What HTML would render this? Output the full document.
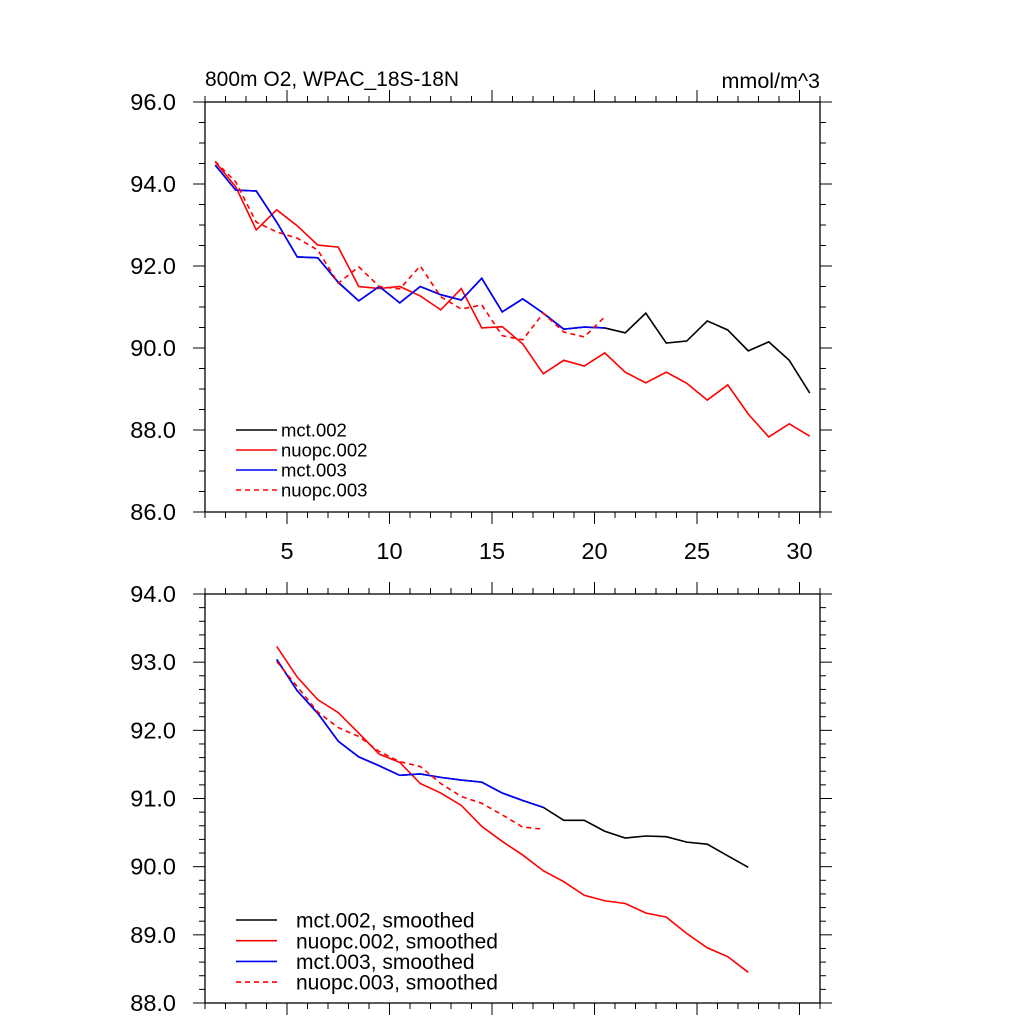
<!DOCTYPE html>
<html><head><meta charset="utf-8"><style>
html,body{margin:0;padding:0;background:#fff}
svg{display:block;font-family:"Liberation Sans",Arial,sans-serif}
</style></head><body>
<svg id="c" width="1024" height="1024" viewBox="0 0 1024 1024"></svg>
<script>
const xs=[1.5,2.5,3.5,4.5,5.5,6.5,7.5,8.5,9.5,10.5,11.5,12.5,13.5,14.5,15.5,16.5,17.5,18.5,19.5,20.5,21.5,22.5,23.5,24.5,25.5,26.5,27.5,28.5,29.5,30.5];
const mct002=[94.46,93.85,93.83,93.07,92.22,92.2,91.6,91.15,91.5,91.1,91.5,91.3,91.17,91.7,90.88,91.2,90.85,90.46,90.51,90.49,90.37,90.85,90.12,90.17,90.66,90.44,89.93,90.15,89.7,88.9];
const nuopc002=[94.54,93.93,92.88,93.37,92.98,92.51,92.46,91.5,91.45,91.5,91.27,90.93,91.45,90.49,90.52,90.1,89.37,89.7,89.56,89.88,89.41,89.15,89.41,89.14,88.73,89.1,88.39,87.83,88.15,87.85];
const mct003=[94.46,93.85,93.83,93.07,92.22,92.2,91.6,91.15,91.5,91.1,91.5,91.3,91.17,91.7,90.88,91.2,90.85,90.46,90.51,90.49];
const nuopc003=[94.55,94.05,93.07,92.83,92.68,92.39,91.58,91.98,91.5,91.44,92.0,91.25,90.95,91.05,90.3,90.2,90.85,90.39,90.27,90.76];
const xsS=[4.5,5.5,6.5,7.5,8.5,9.5,10.5,11.5,12.5,13.5,14.5,15.5,16.5,17.5,18.5,19.5,20.5,21.5,22.5,23.5,24.5,25.5,26.5,27.5];
const mct002S=[93.04,92.58,92.25,91.84,91.61,91.48,91.34,91.36,91.31,91.27,91.24,91.08,90.97,90.87,90.68,90.68,90.52,90.42,90.45,90.44,90.36,90.33,90.16,89.99];
const nuopc002S=[93.23,92.78,92.45,92.26,91.96,91.65,91.53,91.22,91.08,90.9,90.59,90.37,90.17,89.94,89.78,89.58,89.5,89.46,89.32,89.26,89.02,88.81,88.68,88.45];
const mct003S=[93.04,92.58,92.25,91.84,91.61,91.48,91.34,91.36,91.31,91.27,91.24,91.08,90.97,90.87];
const nuopc003S=[93.01,92.64,92.27,92.04,91.91,91.69,91.54,91.47,91.22,91.03,90.93,90.76,90.58,90.55];
const xTicks=[5,10,15,20,25,30];
const yTicksTop=[86,88,90,92,94,96];
const yTicksBot=[88,89,90,91,92,93,94];

const svg=document.getElementById('c');
const NS='http://www.w3.org/2000/svg';
function mk(tag,attrs,parent){const e=document.createElementNS(NS,tag);for(const k in attrs)e.setAttribute(k,attrs[k]);(parent||svg).appendChild(e);return e;}
const L=205,R=820;
const X=v=>L+(v-1)*(R-L)/30;

function panel(name,y0,y1,ymin,ymax,yt,minorStep,showX){
  const g=mk('g',{});
  
  
  const Y=v=>y1-(v-ymin)*(y1-y0)/(ymax-ymin);
  mk('rect',{x:L,y:y0,width:R-L,height:y1-y0,fill:'none',stroke:'#000','stroke-width':1.3},g);
  const tk=mk('g',{stroke:'#000','stroke-width':1},g);
  
  
  for(let v=1;v<=31;v++){
    const maj=v%5===0, len=maj?12:6, x=X(v);
    mk('line',{x1:x,x2:x,y1:y1,y2:y1+len},tk);
    mk('line',{x1:x,x2:x,y1:y0,y2:y0-len},tk);
  }
  const step=yt[1]-yt[0];
  const n=Math.round((ymax-ymin)/minorStep);
  for(let i=0;i<=n;i++){
    const v=ymin+i*minorStep;
    const r=v/step;
    const maj=Math.abs(r-Math.round(r))<1e-6;
    const len=maj?12:6,y=Y(v);
    mk('line',{x1:L,x2:L-len,y1:y,y2:y},tk);
    mk('line',{x1:R,x2:R+len,y1:y,y2:y},tk);
  }
  yt.forEach(v=>{
    const t=mk('text',{x:176,y:Y(v)+8,'text-anchor':'end','font-size':23.5},g);
    t.textContent=v.toFixed(1);
    
    
  });
  if(showX) xTicks.forEach(v=>{
    const t=mk('text',{x:X(v),y:y1+47,'text-anchor':'middle','font-size':23.5},g);
    t.textContent=v;
    
    
  });
  return {g,Y};
}
function series(p,xv,yv,color,dash,nm){
  const d=yv.map((v,i)=>(i?'L':'M')+X(xv[i]).toFixed(2)+' '+p.Y(v).toFixed(2)).join(' ');
  const a={d:d,fill:'none',stroke:color,'stroke-width':1.6};
  if(dash)a['stroke-dasharray']='5 4';
  const e=mk('path',a,p.g);
  
  
}
function legend(p,x0,ly0,dy,tx,fs,labels){
  const cols=['#000','#f00','#00f','#f00'];
  labels.forEach((lb,i)=>{
    const y=ly0+i*dy;
    const a={x1:x0,x2:x0+41,y1:y,y2:y,stroke:cols[i],'stroke-width':1.6};
    if(i===3)a['stroke-dasharray']='5 4';
    const l=mk('line',a,p.g);
    
    
    const t=mk('text',{x:tx,y:y+fs*0.36,'font-size':fs},p.g);
    t.textContent=lb;
    
    
  });
}
const topPanel=panel('top-panel',102,512,86,96,yTicksTop,0.5,true);
series(topPanel,xs,mct002,'#000',false,'line-mct-002');
series(topPanel,xs,nuopc002,'#f00',false,'line-nuopc-002');
series(topPanel,xs,mct003,'#00f',false,'line-mct-003');
series(topPanel,xs,nuopc003,'#f00',true,'line-nuopc-003');
legend(topPanel,236,430,20,281,18.5,['mct.002','nuopc.002','mct.003','nuopc.003']);
const bottomPanel=panel('bottom-panel',594,1003,88,94,yTicksBot,0.2,false);
series(bottomPanel,xsS,mct002S,'#000',false,'line-mct-002-smoothed');
series(bottomPanel,xsS,nuopc002S,'#f00',false,'line-nuopc-002-smoothed');
series(bottomPanel,xsS.slice(0,mct003S.length),mct003S,'#00f',false,'line-mct-003-smoothed');
series(bottomPanel,xsS.slice(0,nuopc003S.length),nuopc003S,'#f00',true,'line-nuopc-003-smoothed');
legend(bottomPanel,236,920,20.7,296,21,['mct.002, smoothed','nuopc.002, smoothed','mct.003, smoothed','nuopc.003, smoothed']);
const t1=mk('text',{x:205,y:86,'font-size':21});
t1.textContent='800m O2, WPAC_18S-18N';


const t2=mk('text',{x:820,y:88,'font-size':21.5,'text-anchor':'end'});
t2.textContent='mmol/m^3';


</script>
</body></html>
